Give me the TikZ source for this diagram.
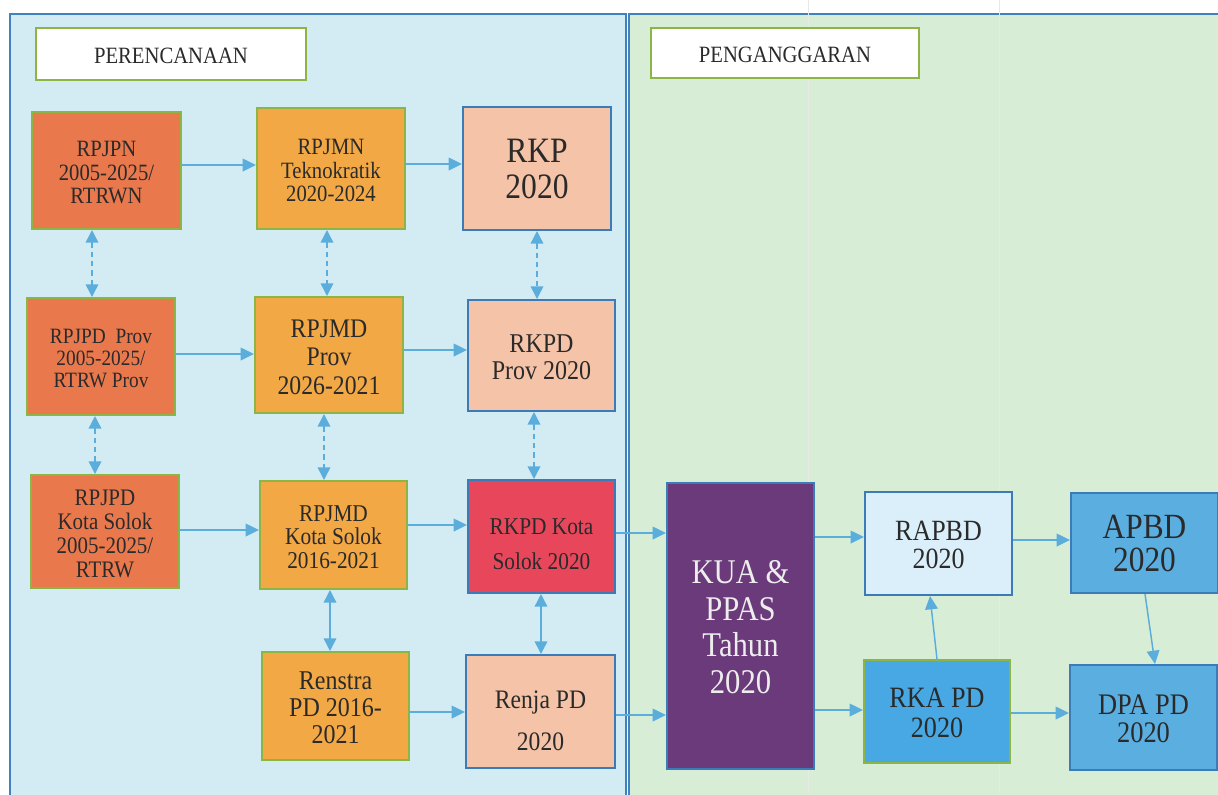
\documentclass[tikz,border=0pt]{standalone}
\usepackage{fontspec}
\setmainfont{Liberation Serif}
\usetikzlibrary{arrows.meta}
\definecolor{leftbg}{HTML}{D3ECF4}
\definecolor{rightbg}{HTML}{D8EDD6}
\definecolor{panelb}{HTML}{3F82C0}
\definecolor{gbord}{HTML}{8DB545}
\definecolor{bbord}{HTML}{3A7BB8}
\definecolor{dor}{HTML}{E9794C}
\definecolor{orn}{HTML}{F2A845}
\definecolor{pch}{HTML}{F5C3A7}
\definecolor{rdd}{HTML}{E8475B}
\definecolor{prp}{HTML}{6B3A7A}
\definecolor{lbl}{HTML}{DBEFFA}
\definecolor{mbl}{HTML}{5BAEE0}
\definecolor{rkb}{HTML}{47A8E3}
\definecolor{acol}{HTML}{5BAEDC}
\definecolor{txt}{HTML}{2A2A2A}
\newcommand{\bx}[7]{\node[#6, minimum width={(#4-#2)*0.75pt}, minimum height={(#5-#3)*0.75pt}] (#1) at ({(#2+#4)/2},{(#3+#5)/2}) {#7};}
\newcommand{\tx}[2][7.5pt]{\raisebox{0pt}[\dimexpr\height+#1\relax][\depth]{\scalebox{1}[1.13]{\begin{tabular}{@{}c@{}}#2\end{tabular}}}}
\begin{document}
\begin{tikzpicture}[x=0.75pt,y=-0.75pt,
  fs/.style 2 args={font=\fontsize{#1}{\fpeval{#2*0.75/1.13}}\selectfont},
  box/.style={draw, line width=1.5pt, inner sep=0pt, align=center, text=txt},
  title/.style={box, fill=white, draw=gbord, fs={15.5}{24}},
  dorange/.style={box, fill=dor, draw=gbord},
  orange/.style={box, fill=orn, draw=gbord},
  peach/.style={box, fill=pch, draw=bbord},
  redbox/.style={box, fill=rdd, draw=bbord},
  purplebox/.style={box, fill=prp, draw=bbord, text=white!93!black},
  lightblue/.style={box, fill=lbl, draw=bbord},
  midblue/.style={box, fill=mbl, draw=bbord},
  rkabox/.style={box, fill=rkb, draw=gbord},
  panel/.style={draw=panelb, line width=1.5pt},
  arr/.style={draw=acol, line width=1.1pt, -{Triangle[length=10pt,width=9.5pt]}},
  dbl/.style={draw=acol, line width=1.1pt, {Triangle[length=9.5pt,width=9.5pt]}-{Triangle[length=9.5pt,width=9.5pt]}},
  dsh/.style={dash pattern=on 4pt off 3pt},
  fold/.style={draw=black!9, line width=0.7pt}
]
\useasboundingbox (0,0) rectangle (1218,794);
\fill[white] (0,0) rectangle (1218,794);
% panels
\draw[panel, fill=leftbg] (10,14) rectangle (626,815);
\draw[panel, fill=rightbg] (629,14) rectangle (1235,815);
\draw[fold] (808,0) -- (808,794);
\draw[fold] (999,0) -- (999,794);
% titles
\bx{perenc}{36}{28}{306}{80}{title}{\tx{PERENCANAAN}}
\bx{pengg}{651}{28}{919}{78}{title}{\tx{PENGANGGARAN}}
% row 1
\bx{rpjpn}{32}{112}{181}{229}{dorange, fs={15.5}{23.5}}{\tx{RPJPN\\2005-2025/\\RTRWN}}
\bx{rpjmn}{257}{108}{405}{229}{orange, fs={15.5}{23.5}}{\tx{RPJMN\\Teknokratik\\2020-2024}}
\bx{rkp}{463}{107}{611}{230}{peach, fs={23.7}{36}}{\tx{RKP\\2020}}
% row 2
\bx{rpjpdprov}{27}{298}{175}{415}{dorange, fs={14.5}{22}}{\tx{RPJPD\ \ Prov\\2005-2025/\\RTRW Prov}}
\bx{rpjmdprov}{255}{297}{403}{413}{orange, fs={17.8}{28.5}}{\tx{RPJMD\\Prov\\2026-2021}}
\bx{rkpdprov}{468}{300}{615}{411}{peach, fs={18}{27.5}}{\tx{RKPD\\Prov 2020}}
% row 3
\bx{rpjpdkota}{31}{475}{179}{588}{dorange, fs={15.7}{24}}{\tx{RPJPD\\Kota Solok\\2005-2025/\\RTRW}}
\bx{rpjmdkota}{260}{481}{407}{589}{orange, fs={16}{23.5}}{\tx{RPJMD\\Kota Solok\\2016-2021}}
\bx{rkpdkota}{468}{480}{615}{593}{redbox, fs={16}{35}}{\tx[12pt]{RKPD Kota\\Solok 2020}}
% row 4
\bx{renstra}{262}{652}{409}{760}{orange, fs={18}{27}}{\tx{Renstra\\PD 2016-\\2021}}
\bx{renja}{466}{655}{615}{768}{peach, fs={17.7}{42}}{\tx[14pt]{Renja PD\\2020}}
% right side
\bx{kua}{667}{483}{814}{769}{purplebox, fs={23}{36.5}}{\tx{KUA \&\\PPAS\\Tahun\\2020}}
\bx{rapbd}{865}{492}{1012}{595}{lightblue, fs={19.5}{28}}{\tx{RAPBD\\2020}}
\bx{apbd}{1071}{493}{1218}{593}{midblue, fs={23.5}{33}}{\tx{APBD\\2020}}
\bx{rka}{864}{660}{1010}{763}{rkabox, fs={19.6}{30}}{\tx{RKA PD\\2020}}
\bx{dpa}{1070}{665}{1217}{770}{midblue, fs={19.8}{28}}{\tx{DPA PD\\2020}}
% guides
\coordinate (y165) at (0,165);
\coordinate (y164) at (0,164);
\coordinate (y354) at (0,354);
\coordinate (y350) at (0,350);
\coordinate (y530) at (0,530);
\coordinate (y525) at (0,525);
\coordinate (y533) at (0,533);
\coordinate (y712) at (0,712);
\coordinate (y715) at (0,715);
\coordinate (y537) at (0,537);
\coordinate (y710) at (0,710);
\coordinate (y540) at (0,540);
\coordinate (y713) at (0,713);
\coordinate (x92) at (92,0);
\coordinate (x327) at (327,0);
\coordinate (x537) at (537,0);
\coordinate (x95) at (95,0);
\coordinate (x324) at (324,0);
\coordinate (x534) at (534,0);
\coordinate (x330) at (330,0);
\coordinate (x541) at (541,0);
\coordinate (x937) at (937,0);
\coordinate (x930) at (930,0);
\coordinate (x1145) at (1145,0);
\coordinate (x1155) at (1155,0);
% horizontal arrows
\draw[arr] (rpjpn.east |- y165) -- (rpjmn.west |- y165);
\draw[arr] (rpjmn.east |- y164) -- (rkp.west |- y164);
\draw[arr] (rpjpdprov.east |- y354) -- (rpjmdprov.west |- y354);
\draw[arr] (rpjmdprov.east |- y350) -- (rkpdprov.west |- y350);
\draw[arr] (rpjpdkota.east |- y530) -- (rpjmdkota.west |- y530);
\draw[arr] (rpjmdkota.east |- y525) -- (rkpdkota.west |- y525);
\draw[arr] (rkpdkota.east |- y533) -- (kua.west |- y533);
\draw[arr] (renstra.east |- y712) -- (renja.west |- y712);
\draw[arr] (renja.east |- y715) -- (kua.west |- y715);
\draw[arr] (kua.east |- y537) -- (rapbd.west |- y537);
\draw[arr] (kua.east |- y710) -- (rka.west |- y710);
\draw[arr] (rapbd.east |- y540) -- (apbd.west |- y540);
\draw[arr] (rka.east |- y713) -- (dpa.west |- y713);
% vertical links
\draw[dbl, dsh] (rpjpn.south -| x92) -- (rpjpdprov.north -| x92);
\draw[dbl, dsh] (rpjmn.south -| x327) -- (rpjmdprov.north -| x327);
\draw[dbl, dsh] (rkp.south -| x537) -- (rkpdprov.north -| x537);
\draw[dbl, dsh] (rpjpdprov.south -| x95) -- (rpjpdkota.north -| x95);
\draw[dbl, dsh] (rpjmdprov.south -| x324) -- (rpjmdkota.north -| x324);
\draw[dbl, dsh] (rkpdprov.south -| x534) -- (rkpdkota.north -| x534);
\draw[dbl] (rpjmdkota.south -| x330) -- (renstra.north -| x330);
\draw[dbl] (rkpdkota.south -| x541) -- (renja.north -| x541);
\draw[arr] (rka.north -| x937) -- (rapbd.south -| x930);
\draw[arr] (apbd.south -| x1145) -- (dpa.north -| x1155);
\end{tikzpicture}
\end{document}
